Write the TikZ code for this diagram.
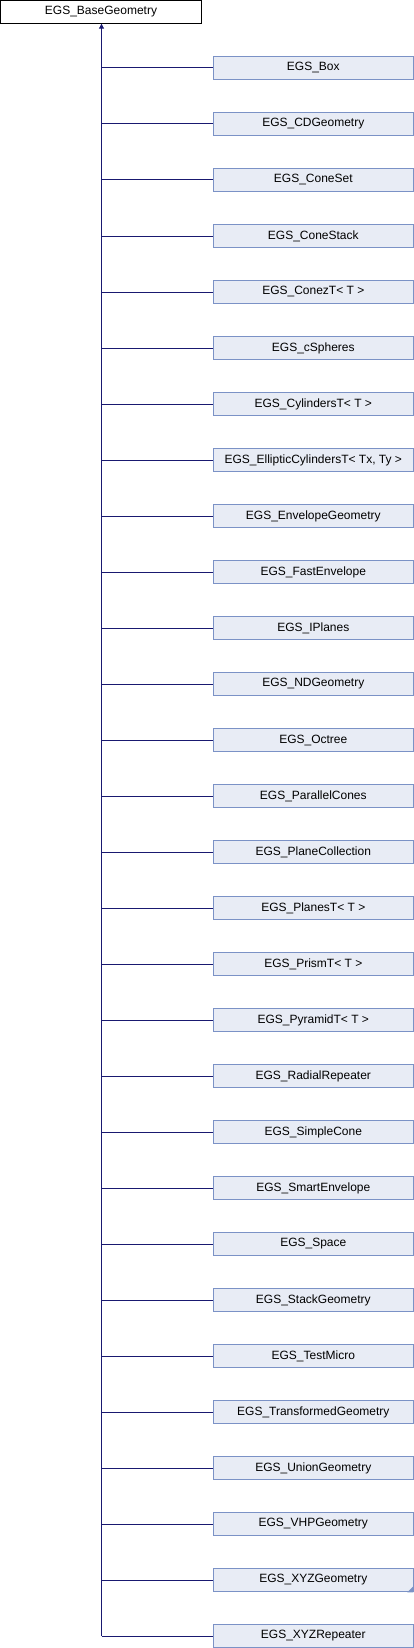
\documentclass[tikz,border=0pt]{standalone}
\usepackage{fontspec}
\setmainfont{Liberation Sans}
\usetikzlibrary{arrows.meta}
\definecolor{edgeblue}{HTML}{191970}
\definecolor{boxfill}{HTML}{E8ECF5}
\definecolor{boxline}{HTML}{7B92C6}
\begin{document}
\begin{tikzpicture}[x=1pt,y=-1pt,
  basebox/.style={draw=black,fill=white,line width=1pt,minimum width=201pt,minimum height=23pt,inner sep=0pt,font=\fontsize{12}{14}\selectfont},
  childbox/.style={draw=boxline,fill=boxfill,line width=1pt,minimum width=200pt,minimum height=22.5pt,inner sep=0pt,anchor=west,font=\fontsize{12}{14}\selectfont},
  edge/.style={draw=edgeblue,line width=1pt}]
\useasboundingbox (0,0) rectangle (414,1648);
\node[basebox] (base) at (101,11.7) {EGS\_BaseGeometry};
\foreach \name [count=\i from 0] in {
  EGS\_Box, EGS\_CDGeometry, EGS\_ConeSet, EGS\_ConeStack, EGS\_ConezT< T >,
  EGS\_cSpheres, EGS\_CylindersT< T >, {EGS\_EllipticCylindersT< Tx, Ty >},
  EGS\_EnvelopeGeometry, EGS\_FastEnvelope, EGS\_IPlanes, EGS\_NDGeometry,
  EGS\_Octree, EGS\_ParallelCones, EGS\_PlaneCollection, EGS\_PlanesT< T >,
  EGS\_PrismT< T >, EGS\_PyramidT< T >, EGS\_RadialRepeater, EGS\_SimpleCone,
  EGS\_SmartEnvelope, EGS\_Space, EGS\_StackGeometry, EGS\_TestMicro,
  EGS\_TransformedGeometry, EGS\_UnionGeometry, EGS\_VHPGeometry,
  EGS\_XYZGeometry, EGS\_XYZRepeater} {
  \pgfmathsetmacro{\yy}{68+56*\i}
  \node[childbox] (c\i) at (212.8,\yy) {\name};
  \coordinate (j\i) at (101.5,\yy);
  \draw[edge] (j\i) -- (c\i.west);
}
% truncation marker on EGS_XYZGeometry
\fill[boxline] ([xshift=-0.5pt,yshift=-0.5pt]c27.south east) -- ++(0,-6) -- ++(-6,6) -- cycle;
\draw[edge,-{Triangle[length=5pt,width=5pt]}] (j28) -- (j28 |- base.south);
\end{tikzpicture}
\end{document}
